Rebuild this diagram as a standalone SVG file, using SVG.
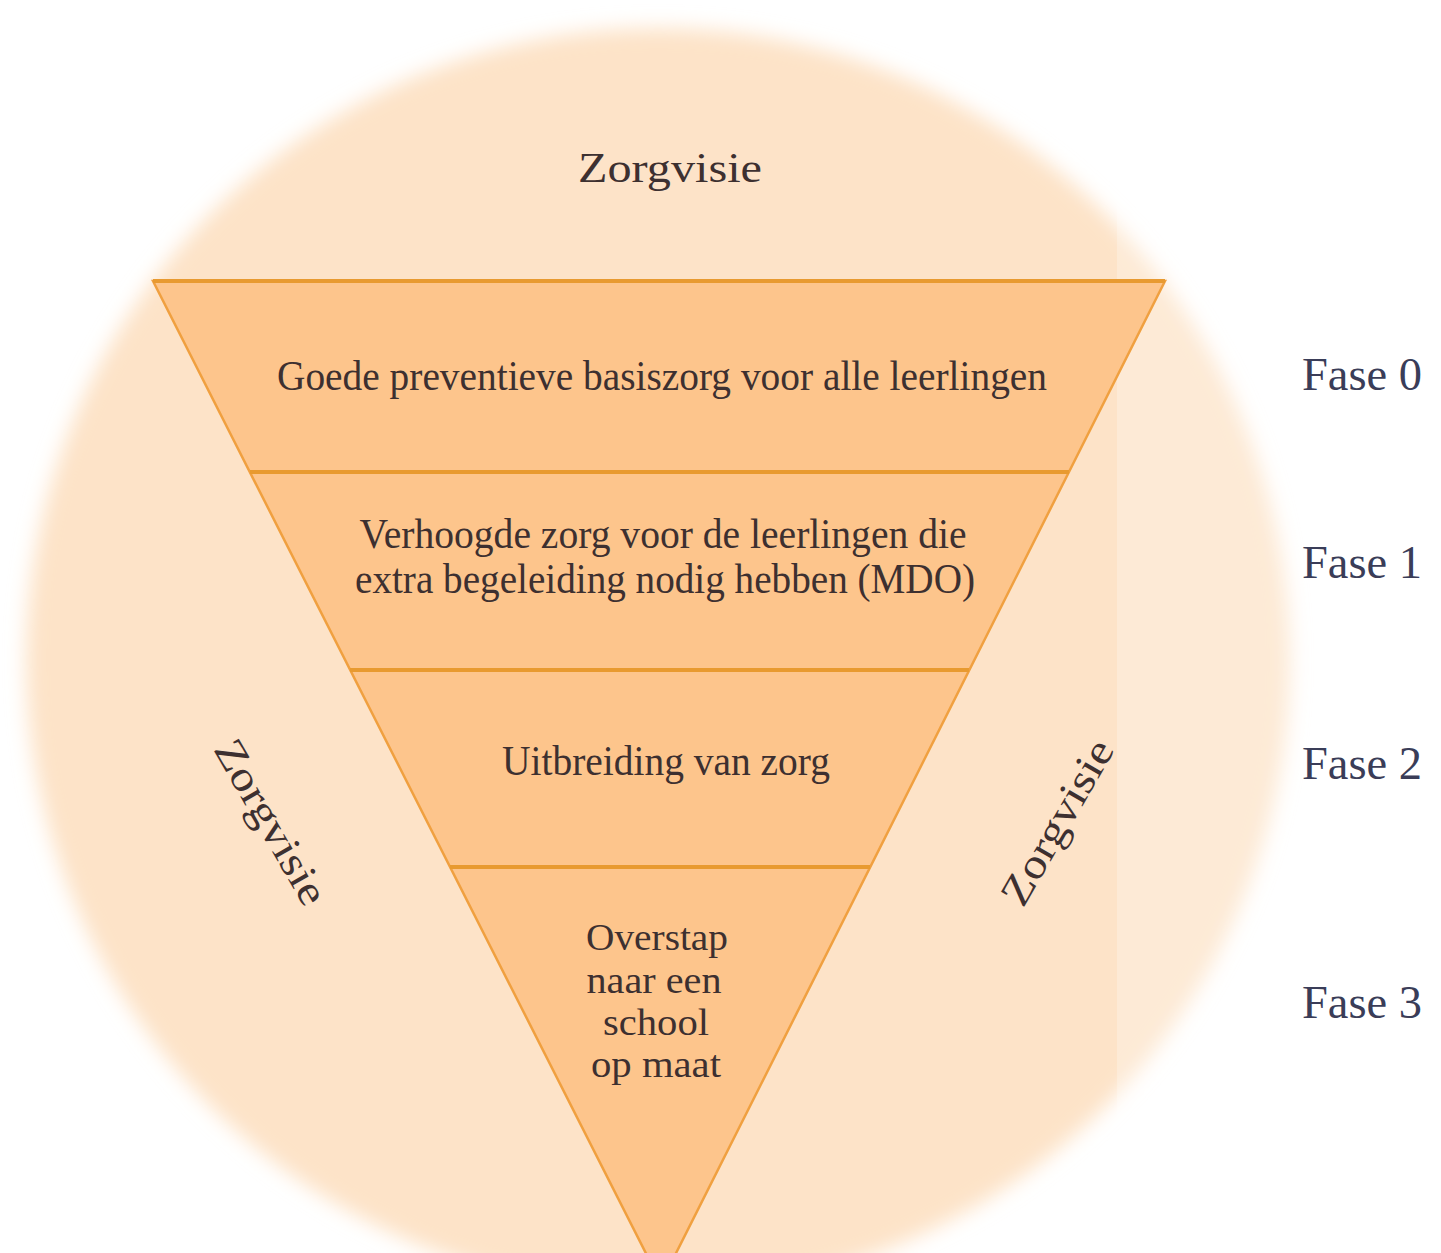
<svg xmlns="http://www.w3.org/2000/svg" width="1441" height="1253" viewBox="0 0 1441 1253">
<defs>
<filter id="soft" x="-10%" y="-10%" width="120%" height="120%"><feGaussianBlur stdDeviation="10"/></filter>
<style>
.t{font-family:"Liberation Serif","DejaVu Serif",serif;fill:#3d3030;font-size:42px;text-anchor:middle}
.s{font-size:37px}
.f{font-family:"Liberation Serif","DejaVu Serif",serif;fill:#3a3d58;font-size:46px}
.band{stroke:#e89a30;stroke-width:4;fill:none}
</style>
</defs>
<rect width="1441" height="1253" fill="#ffffff"/>
<g id="circle">
<circle cx="658" cy="660" r="632" fill="#fde3c8" filter="url(#soft)"/>
<rect x="1117" y="0" width="324" height="1253" fill="#ffffff" opacity="0.25"/>
</g>
<g id="triangle">
<polygon points="153,281 1165,281 661,1283" fill="#fdc58c" stroke="#f0a040" stroke-width="2.5"/>
</g>
<g id="connectors">
<line class="band" x1="153" y1="281" x2="1165" y2="281" stroke-width="5"/>
<line class="band" x1="250" y1="472" x2="1069" y2="472"/>
<line class="band" x1="350" y1="670" x2="969" y2="670"/>
<line class="band" x1="450" y1="867" x2="870" y2="867"/>
</g>
<g id="top-label"><text class="t" x="670" y="182" font-size="46" textLength="184" lengthAdjust="spacingAndGlyphs">Zorgvisie</text></g>
<g id="fase0-node"><text class="t" x="662" y="390" textLength="770" lengthAdjust="spacingAndGlyphs">Goede preventieve basiszorg voor alle leerlingen</text></g>
<g id="fase1-node">
<text class="t" x="663" y="548" textLength="607" lengthAdjust="spacingAndGlyphs">Verhoogde zorg voor de leerlingen die</text>
<text class="t" x="665" y="593" textLength="620" lengthAdjust="spacingAndGlyphs">extra begeleiding nodig hebben (MDO)</text>
</g>
<g id="fase2-node"><text class="t" x="666" y="775" textLength="328" lengthAdjust="spacingAndGlyphs">Uitbreiding van zorg</text></g>
<g id="fase3-node">
<text class="t s" x="657" y="950" textLength="142" lengthAdjust="spacingAndGlyphs">Overstap</text>
<text class="t s" x="654" y="993" textLength="135" lengthAdjust="spacingAndGlyphs">naar een</text>
<text class="t s" x="656" y="1035" textLength="106" lengthAdjust="spacingAndGlyphs">school</text>
<text class="t s" x="656" y="1077" textLength="130" lengthAdjust="spacingAndGlyphs">op maat</text>
</g>
<g id="left-label"><text class="t" transform="translate(271,822) rotate(60)" x="0" y="14" textLength="184" lengthAdjust="spacingAndGlyphs">Zorgvisie</text></g>
<g id="right-label"><text class="t" transform="translate(1057,822) rotate(-60)" x="0" y="14" textLength="184" lengthAdjust="spacingAndGlyphs">Zorgvisie</text></g>
<g id="fase-labels">
<text class="f" x="1302" y="390" textLength="120" lengthAdjust="spacingAndGlyphs">Fase 0</text>
<text class="f" x="1302" y="578" textLength="120" lengthAdjust="spacingAndGlyphs">Fase 1</text>
<text class="f" x="1302" y="779" textLength="120" lengthAdjust="spacingAndGlyphs">Fase 2</text>
<text class="f" x="1302" y="1018" textLength="120" lengthAdjust="spacingAndGlyphs">Fase 3</text>
</g>
</svg>
